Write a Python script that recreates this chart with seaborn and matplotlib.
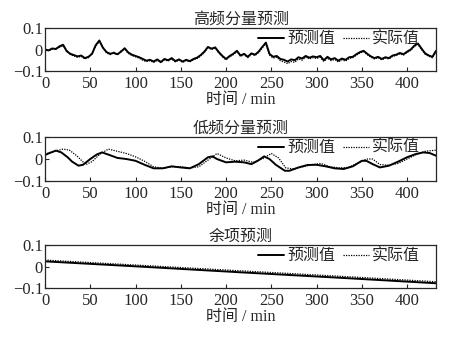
import numpy as np
import pandas as pd
import matplotlib
matplotlib.use("Agg")
import matplotlib.pyplot as plt
import seaborn as sns

sns.set_style("ticks")
plt.rcParams['font.family'] = ['Liberation Serif', 'Noto Sans CJK SC']
plt.rcParams['axes.unicode_minus'] = True

# ---- data ----
hf_t = list(range(0, 433, 4))
hf_pred = [0.000, -0.004, 0.005, 0.002, 0.015, 0.022, -0.008, -0.020, -0.026, -0.032,
           -0.028, -0.040, -0.034, -0.020, 0.020, 0.042, 0.008, -0.012, -0.020, -0.016,
           -0.022, -0.010, 0.006, -0.014, -0.024, -0.030, -0.036, -0.044, -0.052, -0.048,
           -0.056, -0.046, -0.058, -0.044, -0.050, -0.040, -0.054, -0.046, -0.056, -0.048,
           -0.054, -0.044, -0.038, -0.026, -0.010, 0.012, 0.004, 0.010, -0.012, -0.030,
           -0.044, -0.030, -0.020, -0.006, -0.028, -0.020, -0.034, -0.018, -0.024, -0.010,
           0.012, 0.032, -0.020, -0.034, -0.030, -0.044, -0.048, -0.056, -0.046, -0.050,
           -0.036, -0.042, -0.030, -0.038, -0.032, -0.036, -0.030, -0.050, -0.034, -0.046,
           -0.040, -0.052, -0.042, -0.048, -0.036, -0.034, -0.022, -0.012, -0.006, -0.020,
           -0.032, -0.040, -0.034, -0.044, -0.036, -0.040, -0.028, -0.024, -0.016, -0.022,
           -0.010, 0.000, 0.018, 0.028, 0.004, -0.018, -0.028, -0.034, -0.006]
hf_real = [0.002, -0.006, 0.002, 0.006, 0.010, 0.018, -0.004, -0.024, -0.030, -0.036,
           -0.032, -0.044, -0.038, -0.016, 0.016, 0.038, 0.012, -0.016, -0.024, -0.012,
           -0.026, -0.006, 0.002, -0.018, -0.028, -0.034, -0.040, -0.050, -0.056, -0.052,
           -0.060, -0.050, -0.062, -0.048, -0.054, -0.044, -0.058, -0.050, -0.060, -0.052,
           -0.058, -0.048, -0.042, -0.030, -0.014, 0.008, 0.000, 0.006, -0.016, -0.034,
           -0.048, -0.034, -0.024, -0.010, -0.032, -0.024, -0.038, -0.022, -0.028, -0.014,
           0.008, 0.028, -0.026, -0.040, -0.036, -0.052, -0.058, -0.066, -0.056, -0.060,
           -0.044, -0.050, -0.036, -0.044, -0.038, -0.042, -0.036, -0.056, -0.040, -0.052,
           -0.046, -0.058, -0.048, -0.054, -0.042, -0.038, -0.026, -0.016, -0.010, -0.024,
           -0.036, -0.044, -0.038, -0.048, -0.040, -0.044, -0.032, -0.028, -0.020, -0.026,
           -0.014, -0.004, 0.014, 0.024, 0.000, -0.022, -0.032, -0.038, -0.010]

lf_pred_t = [0, 5, 12, 18, 25, 30, 37, 42, 50, 57, 63, 70, 80, 90, 100, 110, 120, 130,
             140, 150, 160, 170, 180, 185, 190, 200, 210, 220, 228, 235, 242, 248, 255,
             265, 270, 280, 290, 300, 310, 320, 330, 340, 350, 355, 362, 370, 380, 390,
             400, 410, 418, 425, 432]
lf_pred = [0.018, 0.027, 0.038, 0.030, 0.008, -0.012, -0.030, -0.026, 0.000, 0.020,
           0.030, 0.020, 0.005, 0.000, -0.008, -0.026, -0.042, -0.042, -0.033, -0.038,
           -0.042, -0.023, 0.008, 0.012, 0.000, -0.015, -0.012, -0.015, -0.023, -0.008,
           0.012, 0.000, -0.026, -0.053, -0.053, -0.038, -0.027, -0.026, -0.033, -0.042,
           -0.045, -0.033, -0.008, -0.008, -0.023, -0.038, -0.030, -0.012, 0.008, 0.023,
           0.030, 0.027, 0.015]
lf_real_t = [0, 10, 20, 27, 35, 45, 52, 60, 70, 80, 90, 100, 110, 120, 130, 140, 150,
             160, 170, 180, 190, 200, 210, 220, 230, 240, 250, 258, 266, 275, 285, 295,
             305, 315, 325, 335, 345, 355, 362, 370, 380, 390, 400, 410, 420, 432]
lf_real = [0.022, 0.035, 0.045, 0.040, 0.015, -0.025, -0.012, 0.020, 0.045, 0.035,
           0.025, 0.010, -0.010, -0.035, -0.042, -0.035, -0.035, -0.040, -0.035, -0.005,
           0.025, 0.005, -0.008, -0.005, -0.015, 0.000, 0.025, 0.005, -0.040, -0.045,
           -0.035, -0.025, -0.020, -0.035, -0.040, -0.038, -0.020, 0.000, 0.000, -0.025,
           -0.028, -0.020, 0.000, 0.020, 0.035, 0.040]

res_t = [0, 108, 216, 324, 432]
res_pred = [0.024, -0.001, -0.027, -0.052, -0.078]
res_real = [0.030, 0.005, -0.020, -0.045, -0.071]

titles = ['高频分量预测', '低频分量预测', '余项预测']
xlabel = '时间 / min'
legend_labels = ['预测值', '实际值']
xticks = [0, 50, 100, 150, 200, 250, 300, 350, 400]
yticks = [-0.1, 0, 0.1]
ytick_labels = ['\u22120.1', '0', '0.1']

panels = [
    (hf_t, hf_pred, hf_t, hf_real),
    (lf_pred_t, lf_pred, lf_real_t, lf_real),
    (res_t, res_pred, res_t, res_real),
]

FS = 12
fig = plt.figure(figsize=(4.5, 3.38), dpi=100)
boxes = [[0.100, 0.790, 0.869, 0.127],
         [0.100, 0.464, 0.869, 0.131],
         [0.100, 0.148, 0.869, 0.127]]

for i, (tp, yp, tr, yr) in enumerate(panels):
    ax = fig.add_axes(boxes[i])
    dfp = pd.DataFrame({'t': tp, 'v': yp})
    dfr = pd.DataFrame({'t': tr, 'v': yr})
    sns.lineplot(data=dfr, x='t', y='v', ax=ax, color='black', lw=0.9,
                 linestyle=(0, (1, 1)), label=legend_labels[1])
    sns.lineplot(data=dfp, x='t', y='v', ax=ax, color='black', lw=1.4,
                 label=legend_labels[0])
    ax.set_xlim(0, 432)
    ax.set_ylim(-0.1, 0.1)
    ax.set_xticks(xticks)
    ax.set_xticklabels([str(x) for x in xticks], fontsize=FS)
    ax.set_yticks(yticks)
    ax.set_yticklabels(ytick_labels, fontsize=FS)
    ax.tick_params(direction='in', length=3, width=0.8)
    ax.tick_params(axis='x', pad=3.5)
    ax.tick_params(axis='y', pad=1.5)
    ax.set_xlabel(xlabel, fontsize=11.5, labelpad=0)
    ax.set_ylabel('')
    ax.set_title(titles[i], fontsize=11.5, pad=2)
    for s in ax.spines.values():
        s.set_linewidth(0.9)
    h, l = ax.get_legend_handles_labels()
    ax.legend([h[1], h[0]], [l[1], l[0]], loc='upper right', ncol=2, frameon=False,
              fontsize=11.5, handlelength=1.6, columnspacing=0.5, handletextpad=0.2,
              borderaxespad=0.0, bbox_to_anchor=(0.975, 1.07))

fig.savefig('out.png', dpi=100)
